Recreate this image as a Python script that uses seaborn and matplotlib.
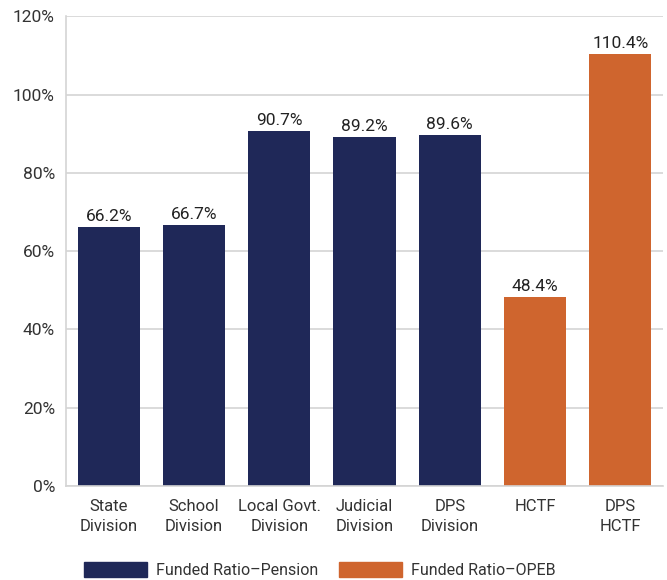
import pandas as pd
import seaborn as sns
import matplotlib.pyplot as plt
from matplotlib.patches import Patch
from matplotlib.ticker import FuncFormatter

categories = ["State\nDivision", "School\nDivision", "Local Govt.\nDivision", "Judicial\nDivision",
              "DPS\nDivision", "HCTF", "DPS\nHCTF"]
values = [66.2, 66.7, 90.7, 89.2, 89.6, 48.4, 110.4]
series = ["Funded Ratio\u2013Pension"] * 5 + ["Funded Ratio\u2013OPEB"] * 2

df = pd.DataFrame({"category": categories, "value": values, "series": series})

navy = "#1f2858"
orange = "#cf652e"
palette = {"Funded Ratio\u2013Pension": navy, "Funded Ratio\u2013OPEB": orange}

sns.set_style("white")
plt.rcParams["font.family"] = ["Roboto", "DejaVu Sans"]

fig = plt.figure(figsize=(6.67, 5.8), dpi=100)
ax = fig.add_axes([0.099, 0.162, 0.895, 0.81])

sns.barplot(data=df, x="category", y="value", hue="series", palette=palette,
            dodge=False, width=0.73, ax=ax, legend=False, saturation=1, linewidth=0)

for container in ax.containers:
    ax.bar_label(container, fmt="%.1f%%", padding=2, fontsize=12.5, color="#222222")

ax.set_ylim(0, 120)
ax.set_yticks(range(0, 121, 20))
ax.yaxis.set_major_formatter(FuncFormatter(lambda v, p: f"{v:.0f}%"))
ax.yaxis.grid(True, color="#d4d4d4", linewidth=1.2)
ax.set_axisbelow(True)
ax.set_xlim(-0.5, 6.5)
ax.set_xlabel("")
ax.set_ylabel("")
for s in ["top", "right"]:
    ax.spines[s].set_visible(False)
ax.spines["left"].set_color("#d4d4d4")
ax.spines["bottom"].set_color("#d4d4d4")
ax.spines["left"].set_linewidth(1.2)
ax.spines["bottom"].set_linewidth(1.2)
ax.tick_params(axis="x", length=0, labelsize=12, colors="#333333", pad=9)
ax.tick_params(axis="y", length=0, labelsize=12.5, colors="#333333", pad=8)
for lbl in ax.get_xticklabels():
    lbl.set_linespacing(1.45)

handles = [Patch(color=navy), Patch(color=orange)]
fig.legend(handles, list(palette.keys()), loc="center", bbox_to_anchor=(0.48, 0.017),
           ncol=2, frameon=False, fontsize=11.5, handlelength=3.9, handleheight=1.1,
           columnspacing=1.3, handletextpad=0.6, labelcolor="#333333",
           borderpad=0, borderaxespad=0)

fig.savefig("out.png", dpi=100)
